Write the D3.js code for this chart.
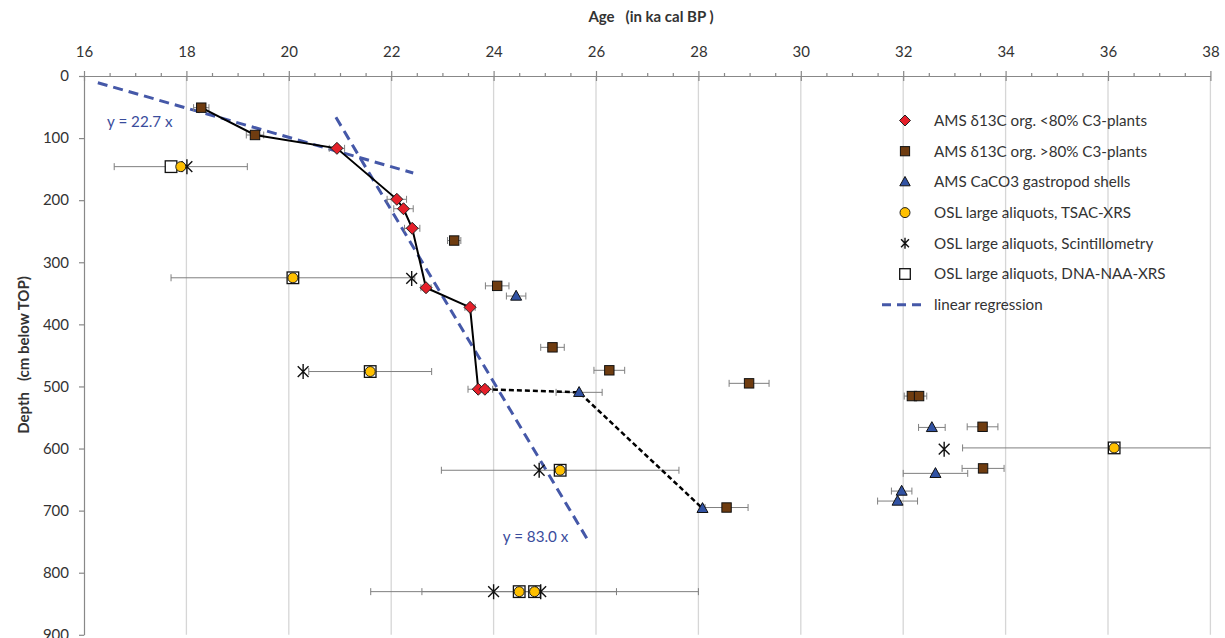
<!DOCTYPE html>
<html>
<head>
<meta charset="utf-8">
<script src="https://cdn.jsdelivr.net/npm/d3@7"></script>
<style>
  body { margin: 0; background: #fff; }
  text { font-family: Lato, "Open Sans", sans-serif; }
</style>
</head>
<body>
<svg width="1225" height="638"></svg>
<script>
// AMS d13C org. <80% C3-plants (age ka, depth cm, 1 sigma)
var redAge   = [20.94, 22.11, 22.24, 22.41, 22.68, 23.54, 23.70, 23.83];
var redDepth = [116.5, 198.6, 213.8, 245.3, 341, 372.6, 504.5, 504.5];
var redErr   = [0.15, 0.19, 0.19, 0.15, 0.1, 0.1, 0.2, 0.15];

// AMS d13C org. >80% C3-plants
var brownAge   = [18.29, 19.34, 23.23, 24.07, 25.15, 26.26, 28.99, 32.17, 32.31, 33.55, 33.56, 28.55];
var brownDepth = [51, 95, 265, 338, 437, 474, 495, 515.5, 515.5, 565, 632, 695];
var brownErr   = [0.15, 0.17, 0.13, 0.23, 0.23, 0.3, 0.39, 0.15, 0.15, 0.3, 0.41, 0.42];

// AMS CaCO3 gastropod shells
var triAge   = [24.44, 25.67, 32.56, 32.63, 31.97, 31.89, 28.08];
var triDepth = [354.4, 509.5, 566, 640, 668.5, 684.6, 696.4];
var triErr   = [0.19, 0.45, 0.26, 0.63, 0.2, 0.39, 0];

// OSL large aliquots, TSAC-XRS
var tsacAge   = [17.89, 20.08, 21.59, 36.12, 25.30, 24.50, 24.80];
var tsacDepth = [146, 325, 476, 599, 635, 830.5, 830.5];
var tsacErr   = [1.3, 2.38, 1.2, 2.96, 2.32, 1.9, 3.2];

// OSL large aliquots, Scintillometry
var scintAge   = [18.01, 22.40, 20.28, 32.80, 24.89, 24.00, 24.92];
var scintDepth = [146, 326, 476, 601, 635, 830.5, 830.5];

// OSL large aliquots, DNA-NAA-XRS
var dnaAge   = [17.70, 20.08, 21.59, 36.12, 25.30, 24.50, 24.80];
var dnaDepth = [146, 325, 476, 599, 635, 830.5, 830.5];

// linear regressions (end points, age ka / depth cm)
var reg1Age = [16.27, 22.43], reg1Depth = [10.8, 156.2];
var reg2Age = [20.92, 25.83], reg2Depth = [66.5, 746];
var regLabels = ["y = 22.7 x", "y = 83.0 x"];
var regLabelAge = [16.45, 24.18], regLabelDepth = [73.6, 742];

var xTicks = d3.range(16, 39, 2);
var yTicks = d3.range(0, 901, 100);
var legendLabels = [
  "AMS δ13C org. <80% C3-plants",
  "AMS δ13C org. >80% C3-plants",
  "AMS CaCO3 gastropod shells",
  "OSL large aliquots, TSAC-XRS",
  "OSL large aliquots, Scintillometry",
  "OSL large aliquots, DNA-NAA-XRS",
  "linear regression"
];

function pts(ages, depths, errs) {
  return ages.map(function (a, i) { return { age: a, depth: depths[i], err: errs ? errs[i] : 0 }; });
}
var red = pts(redAge, redDepth, redErr);
var brown = pts(brownAge, brownDepth, brownErr);
var tri = pts(triAge, triDepth, triErr);
var tsac = pts(tsacAge, tsacDepth, tsacErr);
var scint = pts(scintAge, scintDepth);
var dna = pts(dnaAge, dnaDepth);

var colRed = "#e5202a", colBrown = "#6f3c10", colBlue = "#3152a3", colYellow = "#ffc000";
var colReg = "#4558a8", colAxis = "#888", colGrid = "#d6d6d6", colText = "#333";

var svg = d3.select("svg");
var x = d3.scaleLinear().domain([16, 38]).range([84, 1210.4]);
var y = d3.scaleLinear().domain([0, 900]).range([76, 634.8]);

svg.append("defs").append("clipPath").attr("id", "plot")
  .append("rect").attr("x", 84).attr("y", 76).attr("width", 1126.4).attr("height", 558.8);

// vertical gridlines
svg.append("g").selectAll("line").data(xTicks.slice(1)).enter().append("line")
  .attr("x1", function (d) { return x(d); }).attr("x2", function (d) { return x(d); })
  .attr("y1", y(0)).attr("y2", y(900))
  .attr("stroke", colGrid).attr("stroke-width", 1.3);

// top axis: labels + upward ticks, then downward ticks, then minor ticks
svg.append("g").attr("transform", "translate(0," + y(0) + ")")
  .call(d3.axisTop(x).tickValues(xTicks).tickSizeInner(5).tickSizeOuter(0).tickPadding(14));
svg.append("g").attr("transform", "translate(0," + y(0) + ")")
  .call(d3.axisTop(x).tickValues(xTicks).tickSizeInner(-5).tickSizeOuter(0).tickFormat(""));
svg.append("g").attr("transform", "translate(0," + y(0) + ")")
  .call(d3.axisTop(x).tickValues(d3.range(16, 38.01, 0.5).filter(function (d) { return d % 2 != 0; }))
    .tickSizeInner(3).tickSizeOuter(0).tickFormat(""));

svg.append("g").attr("transform", "translate(" + x(16) + ",0)")
  .call(d3.axisLeft(y).tickValues(yTicks).tickSizeInner(5).tickSizeOuter(0).tickPadding(10));

svg.selectAll(".domain, .tick line").attr("stroke", colAxis).attr("stroke-width", 1.2);
svg.selectAll(".tick text").attr("fill", colText).style("font-size", "15px");

// axis titles
svg.append("text").attr("x", 651).attr("y", 22).attr("text-anchor", "middle")
  .style("font-size", "15px").style("font-weight", "bold").style("white-space", "pre")
  .attr("fill", colText).text("Age   (in ka cal BP )");
svg.append("text").attr("transform", "translate(29,355) rotate(-90)").attr("text-anchor", "middle")
  .style("font-size", "15px").style("font-weight", "bold").style("white-space", "pre")
  .attr("fill", colText).text("Depth   (cm below TOP)");

var plot = svg.append("g").attr("clip-path", "url(#plot)");

// regression lines
[[reg1Age, reg1Depth], [reg2Age, reg2Depth]].forEach(function (r) {
  plot.append("line")
    .attr("x1", x(r[0][0])).attr("y1", y(r[1][0]))
    .attr("x2", x(r[0][1])).attr("y2", y(r[1][1]))
    .attr("stroke", colReg).attr("stroke-width", 3).attr("stroke-dasharray", "10,6");
});
regLabels.forEach(function (t, i) {
  svg.append("text").attr("x", x(regLabelAge[i])).attr("y", y(regLabelDepth[i])).attr("dy", "0.35em")
    .style("font-size", "15.2px").attr("fill", "#3a4c9c").text(t);
});

// error bars
function errorBars(data) {
  var g = plot.append("g").attr("stroke", "#7f7f7f").attr("stroke-width", 1);
  data.filter(function (d) { return d.err > 0; }).forEach(function (d) {
    var cy = y(d.depth), x0 = x(d.age - d.err), x1 = x(d.age + d.err);
    g.append("line").attr("x1", x0).attr("x2", x1).attr("y1", cy).attr("y2", cy);
    g.append("line").attr("x1", x0).attr("x2", x0).attr("y1", cy - 3.5).attr("y2", cy + 3.5);
    g.append("line").attr("x1", x1).attr("x2", x1).attr("y1", cy - 3.5).attr("y2", cy + 3.5);
  });
}
errorBars(brown);
errorBars(red);
errorBars(tri);
errorBars(tsac);

// age-depth profile
var line = d3.line().x(function (d) { return x(d.age); }).y(function (d) { return y(d.depth); });
var solid = brown.slice(0, 2).concat(red.slice(0, 7));
var dashed = [red[7], tri[1], tri[6]];
plot.append("path").attr("d", line(solid)).attr("fill", "none").attr("stroke", "#000").attr("stroke-width", 2);
plot.append("path").attr("d", line(dashed)).attr("fill", "none").attr("stroke", "#000")
  .attr("stroke-width", 2.5).attr("stroke-dasharray", "5,3");

// marker painters
function diamond(g, s) {
  return g.append("path").attr("d", "M0," + (-s) + "L" + s + ",0L0," + s + "L" + (-s) + ",0Z")
    .attr("fill", colRed).attr("stroke", "#222").attr("stroke-width", 1);
}
function square(g, s, fill) {
  return g.append("rect").attr("x", -s).attr("y", -s).attr("width", 2 * s).attr("height", 2 * s)
    .attr("fill", fill).attr("stroke", "#111").attr("stroke-width", fill == "#fff" ? 1.3 : 1);
}
function triangle(g, s) {
  return g.append("path").attr("d", "M0," + (-s * 1.05) + "L" + s + "," + (s * 0.75) + "L" + (-s) + "," + (s * 0.75) + "Z")
    .attr("fill", colBlue).attr("stroke", "#111").attr("stroke-width", 1);
}
function circle(g, r) {
  return g.append("circle").attr("r", r).attr("fill", colYellow).attr("stroke", "#222").attr("stroke-width", 1);
}
function star(g, s) {
  var k = s * 0.72;
  return g.append("path")
    .attr("d", "M" + (-k) + "," + (-k) + "L" + k + "," + k + "M" + k + "," + (-k) + "L" + (-k) + "," + k + "M0," + (-s) + "L0," + s)
    .attr("stroke", "#111").attr("stroke-width", 1.4).attr("fill", "none");
}
function place(data, painter, size, extra) {
  data.forEach(function (d) {
    var g = plot.append("g").attr("transform", "translate(" + x(d.age) + "," + y(d.depth) + ")");
    painter(g, size, extra);
  });
}
place(dna, square, 5.8, "#fff");
place(scint, star, 7.5);
place(tsac, circle, 5);
place(brown, square, 4.7, colBrown);
place(red, diamond, 6);
place(tri, triangle, 5.5);

// legend
var lx = 905, ly0 = 120.5, lstep = 30.7;
var painters = [
  function (g) { diamond(g, 5.5); },
  function (g) { square(g, 4.6, colBrown); },
  function (g) { triangle(g, 5.2); },
  function (g) { circle(g, 5); },
  function (g) { star(g, 5.5); },
  function (g) { square(g, 5.3, "#fff"); },
  function (g) {
    g.append("line").attr("x1", -23).attr("x2", 20).attr("stroke", colReg)
      .attr("stroke-width", 3).attr("stroke-dasharray", "9,6");
  }
];
legendLabels.forEach(function (t, i) {
  var g = svg.append("g").attr("transform", "translate(" + lx + "," + (ly0 + i * lstep) + ")");
  painters[i](g);
  g.append("text").attr("x", 29).attr("dy", "0.35em").style("font-size", "15.2px")
    .attr("fill", colText).text(t);
});
</script>
</body>
</html>
